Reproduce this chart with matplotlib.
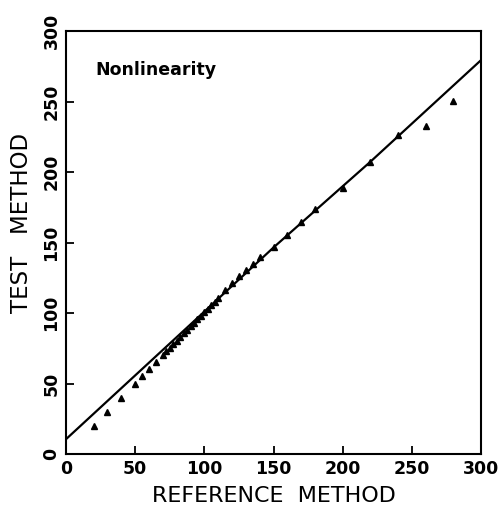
import matplotlib
matplotlib.use('Agg')
import matplotlib.pyplot as plt

# triangles: reference method vs test method
ref_x = [20, 30, 40, 50, 55, 60, 65,
         70, 72.5, 75, 77.5, 80, 82.5, 85, 87.5, 90, 92.5, 95, 97.5, 100,
         102.5, 105, 107.5, 110, 115, 120, 125, 130, 135, 140,
         150, 160, 170, 180, 200, 220, 240, 260, 280]
test_y = [20, 30, 40, 50, 55, 60, 65,
          70.5, 73, 75.5, 78, 80.5, 83, 85.5, 88, 90.5, 93, 95.5, 98, 100.5,
          103, 105.5, 108, 110.5, 116, 121.5, 126, 130.5, 135, 139.5,
          146.5, 155, 164.5, 174, 189, 207, 226.5, 232.5, 250.5]

# fitted line
line_x = [0, 100, 150, 220, 300]
line_y = [10.5, 101, 146.5, 207.3, 279.4]

fig = plt.figure(figsize=(4.98, 5.09), dpi=100)
ax = fig.add_axes([0.1325, 0.108, 0.8335, 0.831])

ax.plot(line_x, line_y, color='black', lw=1.6)
ax.plot(ref_x, test_y, linestyle='none', marker='^', color='black', ms=5)

ax.set_xlim(0, 300)
ax.set_ylim(0, 300)
ax.set_xticks([0, 50, 100, 150, 200, 250, 300])
ax.set_yticks([0, 50, 100, 150, 200, 250, 300])
ax.tick_params(direction='in', length=6, width=1.3, labelsize=12.5, pad=4)
for lbl in ax.get_xticklabels():
    lbl.set_fontweight('bold')
for lbl in ax.get_yticklabels():
    lbl.set_fontweight('bold')
    lbl.set_rotation(90)
    lbl.set_va('center')
for s in ax.spines.values():
    s.set_linewidth(1.5)

ax.set_xlabel("REFERENCE  METHOD", fontsize=16)
ax.set_ylabel("TEST   METHOD", fontsize=16.5)
ax.xaxis.set_label_coords(0.5, -0.075)
ax.yaxis.set_label_coords(-0.08, 0.546)

ax.text(0.07, 0.908, "Nonlinearity", transform=ax.transAxes,
        fontsize=12.5, fontweight='bold', va='center', ha='left')

fig.savefig('out.png', dpi=100)
